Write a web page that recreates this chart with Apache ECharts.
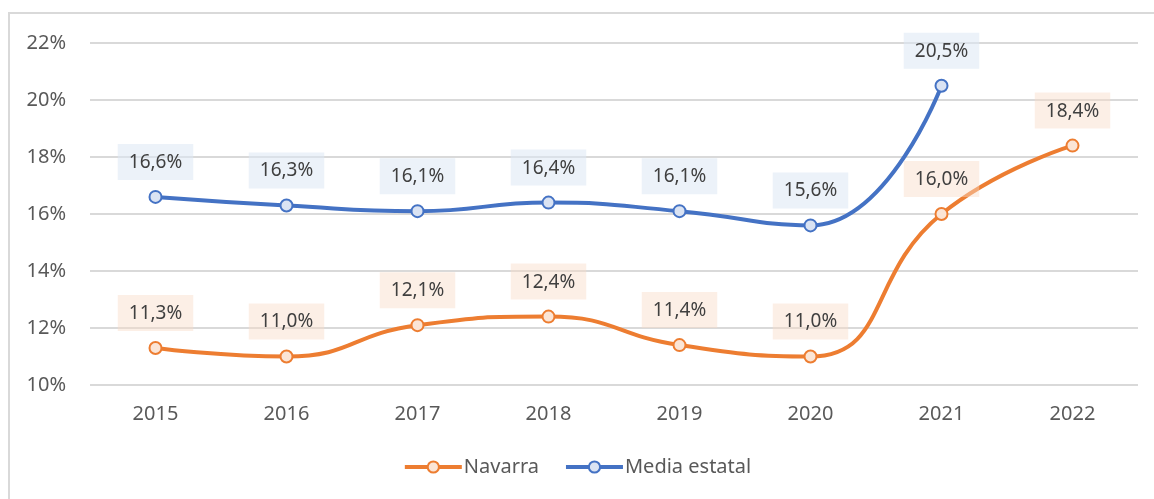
<!DOCTYPE html>
<html>
<head>
<meta charset="UTF-8">
<title>Navarra vs Media estatal</title>
<script type="text/javascript" src="https://cdn.jsdelivr.net/npm/echarts@6/dist/echarts.min.js"></script>
<style>
	html, body { margin: 0; padding: 0; background: #fff; }
	#frame { position: absolute; left: 8px; top: 12px; right: -4px; bottom: -4px;
		border-top: 2px solid #d9d9d9; border-left: 2px solid #d9d9d9; }
	#main { position: absolute; left: 0; top: 0; width: 1154px; height: 499px; }
</style>
</head>
<body>
	<div id="frame"></div>
	<div id="main"></div>

	<script type="text/javascript">
		// datos
		var years = ['2015', '2016', '2017', '2018', '2019', '2020', '2021', '2022'];
		var navarra = [11.3, 11.0, 12.1, 12.4, 11.4, 11.0, 16.0, 18.4];
		var mediaEstatal = [16.6, 16.3, 16.1, 16.4, 16.1, 15.6, 20.5, null];
		var yTicks = [10, 12, 14, 16, 18, 20, 22];

		var font = 'Noto Sans';
		function pct(v) { return v.toFixed(1).replace('.', ',') + '%'; }

		function lineSerie(name, data, color, fill, labelBg) {
			return {
				name: name,
				type: 'line',
				data: data,
				smooth: 0.5,
				symbol: 'circle',
				symbolSize: 12,
				lineStyle: { color: color, width: 4 },
				itemStyle: { color: fill, borderColor: color, borderWidth: 2 },
				label: {
					show: true,
					position: 'top',
					distance: 10,
					formatter: function (p) { return pct(p.value); },
					fontFamily: font,
					fontSize: 19,
					color: '#404040',
					backgroundColor: labelBg,
					padding: [9, 11, 8, 11]
				}
			};
		}

		var myChart = echarts.init(document.getElementById('main'));
		var option = {
			animation: false,
			grid: { left: 90, right: 16, top: 43, bottom: 114 },
			legend: {
				bottom: 17,
				left: 'center',
				itemWidth: 57,
				itemHeight: 14,
				itemGap: 25,
				textStyle: { fontFamily: font, fontSize: 20, color: '#595959', padding: [0, 0, 0, -3] },
				data: [
					{ name: 'Navarra', lineStyle: { width: 4 } },
					{ name: 'Media estatal', lineStyle: { width: 4 } }
				]
			},
			xAxis: {
				type: 'category',
				data: years,
				boundaryGap: true,
				axisLine: { show: false },
				axisTick: { show: false },
				axisLabel: { fontFamily: font, fontSize: 20, color: '#595959', margin: 19 }
			},
			yAxis: {
				type: 'value',
				min: yTicks[0],
				max: yTicks[yTicks.length - 1],
				interval: 2,
				axisLine: { show: false },
				axisTick: { show: false },
				splitLine: { lineStyle: { color: '#d9d9d9', width: 2 } },
				axisLabel: {
					fontFamily: font, fontSize: 20, color: '#595959', margin: 24,
					formatter: function (v) { return v + '%'; }
				}
			},
			series: [
				lineSerie('Navarra', navarra, '#ed7d31', '#fbe5d6', 'rgba(248,220,200,0.45)'),
				lineSerie('Media estatal', mediaEstatal, '#4472c4', '#dae3f3', 'rgba(220,232,244,0.55)')
			]
		};
		myChart.setOption(option);
		window.onresize = myChart.resize;
	</script>
</body>
</html>
